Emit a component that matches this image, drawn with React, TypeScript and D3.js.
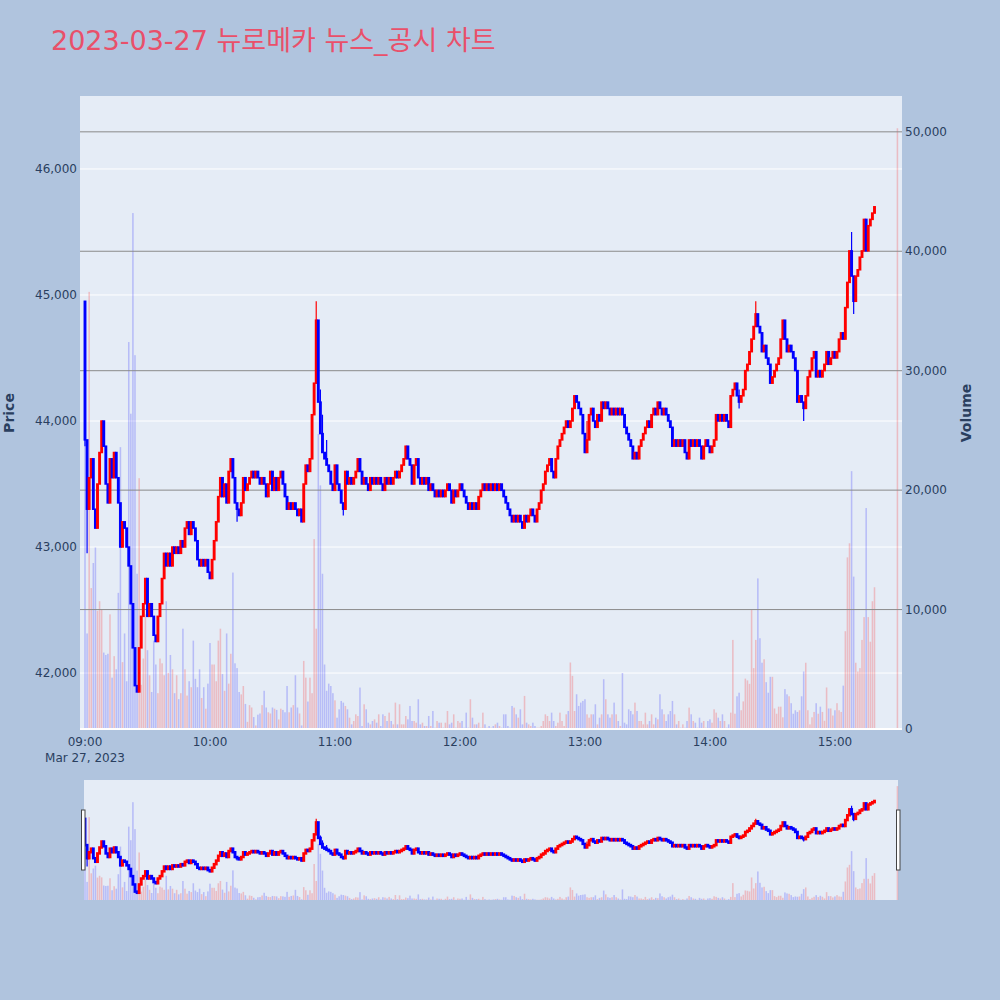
import React from 'react';
import * as d3 from 'd3';

// ---------- data (per-minute, 09:00 = minute 0) ----------
const FIRST_OPEN = 44950;

const closeH09 = [
  43850, 43300, 43550, 43700, 43300, 43150, 43500, 43750, 44000, 43800,
  43500, 43350, 43700, 43550, 43750, 43550, 43350, 43000, 43200, 43150,
  43000, 42850, 42550, 42200, 41900, 41850, 42200, 42450, 42550, 42750,
  42450, 42550, 42450, 42300, 42250, 42450, 42550, 42750, 42950, 42850,
  42950, 42850, 43000, 42950, 43000, 42950, 43050, 43000, 43150, 43200,
  43100, 43200, 43150, 43050, 42900, 42850, 42900, 42850, 42900, 42800,
];
const closeH10 = [
  42750, 42900, 43050, 43200, 43400, 43550, 43400, 43500, 43350, 43600,
  43700, 43550, 43350, 43300, 43250, 43350, 43550, 43450, 43500, 43550,
  43600, 43550, 43600, 43550, 43500, 43550, 43500, 43400, 43500, 43600,
  43450, 43550, 43450, 43550, 43600, 43500, 43400, 43300, 43350, 43300,
  43350, 43300, 43250, 43300, 43200, 43500, 43650, 43600, 43700, 44050,
  44300, 44800, 44150, 43900, 43750, 43700, 43650, 43600, 43500, 43450,
];
const closeH11 = [
  43650, 43500, 43450, 43350, 43300, 43600, 43500, 43550, 43500, 43550,
  43600, 43700, 43600, 43500, 43550, 43500, 43450, 43550, 43500, 43550,
  43500, 43550, 43500, 43450, 43550, 43500, 43550, 43500, 43550, 43600,
  43550, 43600, 43650, 43700, 43800, 43700, 43650, 43500, 43650, 43700,
  43550, 43500, 43550, 43500, 43550, 43450, 43500, 43450, 43400, 43450,
  43400, 43450, 43400, 43450, 43500, 43450, 43350, 43450, 43400, 43450,
];
const closeH12 = [
  43500, 43450, 43400, 43350, 43300, 43350, 43300, 43350, 43300, 43400,
  43450, 43500, 43450, 43500, 43450, 43500, 43450, 43500, 43450, 43500,
  43450, 43400, 43350, 43300, 43250, 43200, 43250, 43200, 43250, 43200,
  43150, 43250, 43200, 43250, 43300, 43250, 43200, 43300, 43350, 43450,
  43500, 43600, 43650, 43700, 43600, 43550, 43700, 43800, 43850, 43900,
  43950, 44000, 43950, 44000, 44100, 44200, 44150, 44100, 44050, 43900,
];
const closeH13 = [
  43750, 43850, 44050, 44100, 44000, 43950, 44050, 44000, 44150, 44100,
  44150, 44100, 44050, 44100, 44050, 44100, 44050, 44100, 44050, 43950,
  43900, 43850, 43800, 43700, 43750, 43700, 43800, 43850, 43900, 43950,
  44000, 43950, 44050, 44100, 44050, 44150, 44100, 44050, 44100, 44050,
  44000, 43950, 43800, 43850, 43800, 43850, 43800, 43850, 43750, 43700,
  43850, 43800, 43850, 43800, 43850, 43800, 43700, 43800, 43850, 43800,
];
const closeH14 = [
  43750, 43800, 43850, 44050, 44000, 44050, 44000, 44050, 44000, 43950,
  44200, 44250, 44300, 44200, 44150, 44200, 44250, 44400, 44450, 44550,
  44650, 44750, 44850, 44750, 44700, 44550, 44600, 44500, 44450, 44300,
  44350, 44400, 44450, 44500, 44650, 44800, 44650, 44550, 44600, 44550,
  44500, 44400, 44150, 44200, 44150, 44100, 44200, 44350, 44400, 44500,
  44550, 44350, 44400, 44350, 44400, 44450, 44550, 44450, 44500, 44550,
];
const closeH15 = [
  44500, 44550, 44650, 44700, 44650, 44900, 45100, 45350, 45150, 44950,
  45150, 45200, 45300, 45350, 45600, 45350, 45550, 45600, 45650, 45700,
];

// [minute, high, low] for candles whose wick reaches past the body
const wickExtremes: [number, number, number][] = [
  [0, 44950, 43800], [1, 43850, 42950], [73, 43350, 43200], [111, 44950, 44300],
  [112, 44800, 44150], [113, 44250, 43900], [114, 44050, 43750], [116, 43850, 43650],
  [124, 43350, 43250], [241, 44000, 43750], [314, 44250, 44100], [322, 44950, 44750],
  [345, 44150, 44000], [368, 45500, 45150], [369, 45150, 44850],
];

const volH09 = [
  29000, 8000, 36600, 11800, 13900, 15200, 9900, 10700, 10000, 6400,
  6200, 6300, 9600, 4300, 6100, 5000, 11400, 23600, 5600, 8000,
  4000, 32400, 26400, 43200, 31300, 13000, 21000, 3700, 5900, 9600,
  6600, 4500, 3100, 7400, 5400, 3000, 5900, 5500, 4500, 10700,
  4700, 6200, 5000, 3000, 4500, 2500, 3000, 8400, 5000, 2800,
  4000, 3500, 7400, 4200, 3500, 5000, 2600, 3500, 1700, 3800,
];
const volH10 = [
  7200, 5400, 5400, 4000, 7400, 8400, 4600, 3200, 8000, 3800,
  6300, 13100, 5500, 5100, 3100, 2900, 3600, 2100, 600, 2000,
  1800, 1000, 300, 1200, 1300, 2000, 3200, 1800, 1400, 1300,
  1800, 1700, 1600, 800, 1700, 1600, 1400, 3600, 1400, 1800,
  2000, 4500, 1800, 1300, 300, 5700, 4300, 2300, 4300, 3000,
  15900, 8400, 24700, 20400, 13000, 5400, 3200, 3800, 3600, 3000,
];
const volH11 = [
  2400, 950, 1650, 2350, 2210, 1930, 1650, 950, 390, 670,
  1230, 1090, 3470, 250, 2070, 1650, 530, 390, 670, 810,
  530, 1230, 250, 1230, 1090, 670, 1370, 670, 390, 2210,
  390, 2070, 390, 390, 1090, 810, 1930, 670, 670, 530,
  2490, 390, 530, 250, 250, 1090, 250, 1510, 110, 670,
  530, 530, 110, 530, 1510, 390, 530, 1230, 110, 670,
];
const volH12 = [
  530, 670, 110, 1370, 110, 2490, 950, 390, 390, 530,
  110, 1370, 390, 110, 250, 110, 250, 390, 530, 250,
  110, 1230, 1230, 250, 110, 1930, 1790, 1230, 950, 1650,
  390, 2770, 530, 390, 250, 530, 250, 110, 110, 250,
  670, 1230, 1090, 670, 1370, 670, 250, 530, 1370, 670,
  250, 1230, 1510, 5570, 4450, 1510, 2910, 1930, 2210, 2350,
];
const volH13 = [
  2490, 1230, 950, 1230, 1230, 2070, 390, 950, 1230, 4170,
  2490, 1230, 950, 1230, 2210, 1230, 670, 250, 4690, 530,
  390, 1650, 1510, 1230, 2210, 1510, 670, 670, 390, 1370,
  390, 670, 1230, 390, 950, 810, 2910, 1650, 1230, 670,
  1230, 1510, 2350, 1230, 390, 670, 110, 390, 110, 670,
  1790, 1230, 670, 530, 110, 950, 530, 670, 110, 670,
];
const volH14 = [
  810, 530, 1650, 1370, 950, 670, 1230, 670, 110, 390,
  1370, 7460, 1280, 2740, 3040, 1570, 2310, 4220, 4070, 3780,
  9960, 5100, 7460, 12610, 7600, 5550, 5840, 3920, 3040, 4370,
  4370, 1720, 1280, 1870, 1870, 980, 3340, 2900, 2740, 2160,
  1280, 1570, 1430, 1570, 2740, 4810, 5550, 1570, 390, 980,
  1430, 2160, 1280, 1870, 1430, 690, 3480, 1720, 1720, 1130,
];
const volH15 = [
  1570, 2160, 1570, 1430, 3630, 8190, 14370, 15550, 21590, 12760,
  5550, 4810, 5100, 7460, 9370, 18500, 9370, 7310, 10700, 11870,
];
// closing auction (15:30)
const closingAuction = { minute: 390, volume: 50300 };

const priceTicks = [42000, 43000, 44000, 45000, 46000];
const volumeTicks = [0, 10000, 20000, 30000, 40000, 50000];
const timeTicks = ['09:00', '10:00', '11:00', '12:00', '13:00', '14:00', '15:00'];
const dateLabel = 'Mar 27, 2023';
const titleText = '2023-03-27 뉴로메카 뉴스_공시 차트';

// ---------- layout ----------
const MAIN = { left: 80, right: 902, top: 96, bottom: 730 };
const SLIDER = { left: 84, right: 898, top: 780, bottom: 900 };
const X_DOMAIN: [number, number] = [-2.4, 392.2];
const PRICE_DOMAIN: [number, number] = [41548, 46579];
const VOL_DOMAIN: [number, number] = [0, 53000];
const FONT = '"DejaVu Sans", Verdana, "Noto Sans CJK KR", sans-serif';
const INK = '#2a3f5f';
const UP = '#ff0000';
const DOWN = '#0000ff';

export default function App() {
  const closes = [...closeH09, ...closeH10, ...closeH11, ...closeH12, ...closeH13, ...closeH14, ...closeH15];
  const vols = [...volH09, ...volH10, ...volH11, ...volH12, ...volH13, ...volH14, ...volH15];
  const candles = closes.map((c, i) => {
    const o = i === 0 ? FIRST_OPEN : closes[i - 1];
    let h = Math.max(o, c);
    let l = Math.min(o, c);
    const w = wickExtremes.find((e) => e[0] === i);
    if (w) { h = Math.max(h, w[1]); l = Math.min(l, w[2]); }
    return { m: i, o, c, h, l, v: vols[i] ?? 0, up: c > o };
  });

  const x = d3.scaleLinear().domain(X_DOMAIN).range([MAIN.left, MAIN.right]);
  const yP = d3.scaleLinear().domain(PRICE_DOMAIN).range([MAIN.bottom, MAIN.top]);
  const yV = d3.scaleLinear().domain(VOL_DOMAIN).range([MAIN.bottom - 1, MAIN.top]);
  const ysP = d3.scaleLinear().domain(PRICE_DOMAIN).range([SLIDER.bottom, SLIDER.top]);
  const ysV = d3.scaleLinear().domain(VOL_DOMAIN).range([SLIDER.bottom, SLIDER.top]);
  const fmt = d3.format(',');
  const step = x(1) - x(0);
  const barW = step * 0.75;

  const volBars = (yv: d3.ScaleLinear<number, number>, key: string) => (
    <g key={key}>
      {candles.map((d) => (
        <rect key={d.m} x={x(d.m) - barW / 2} width={barW} y={yv(d.v)} height={Math.max(0, yv(0) - yv(d.v))}
          fill={d.up ? 'rgba(255,0,0,0.2)' : 'rgba(0,0,255,0.2)'} />
      ))}
      <rect x={x(closingAuction.minute) - barW / 2} width={barW} y={yv(closingAuction.volume)}
        height={yv(0) - yv(closingAuction.volume)} fill="rgba(255,0,0,0.2)" />
    </g>
  );

  const candleMarks = (yp: d3.ScaleLinear<number, number>, cw: number, pad: number, minH: number, key: string) => (
    <g key={key}>
      {candles.map((d) => {
        const col = d.up ? UP : DOWN;
        const top = yp(Math.max(d.o, d.c));
        const bot = yp(Math.min(d.o, d.c));
        const hgt = Math.max(minH, bot - top + pad);
        const cx = x(d.m);
        return (
          <g key={d.m}>
            <line x1={cx} x2={cx} y1={yp(d.h)} y2={yp(d.l)} stroke={col} strokeWidth={1.2} />
            <rect x={cx - cw / 2} width={cw} y={(top + bot) / 2 - hgt / 2} height={hgt} fill={col} />
          </g>
        );
      })}
    </g>
  );

  const hourX = (i: number) => x(i * 60);

  return (
    <svg width={1000} height={1000} style={{ position: 'absolute', left: 0, top: 0 }}>
      <rect width={1000} height={1000} fill="#b0c4de" />
      <text x={51} y={50} fontFamily={FONT} fontSize={27} fill="#e9506a">{titleText}</text>

      {/* main plot */}
      <rect x={MAIN.left} y={MAIN.top} width={MAIN.right - MAIN.left} height={MAIN.bottom - MAIN.top} fill="#e5ecf6" />
      {priceTicks.map((t) => (
        <line key={t} x1={MAIN.left} x2={MAIN.right} y1={yP(t)} y2={yP(t)} stroke="#ffffff" strokeWidth={1} />
      ))}
      {volBars(yV, 'vm')}
      {volumeTicks.filter((t) => t > 0).map((t) => (
        <line key={t} x1={MAIN.left} x2={MAIN.right} y1={yV(t)} y2={yV(t)} stroke="#8a8a8a" strokeWidth={1} />
      ))}
      <line x1={MAIN.left} x2={MAIN.right} y1={yV(0)} y2={yV(0)} stroke="#ffffff" strokeWidth={2} />
      {candleMarks(yP, 2.9, 1.5, 2.5, 'cm')}

      {/* price axis */}
      {priceTicks.map((t) => (
        <text key={t} x={77} y={yP(t) + 4} textAnchor="end" fontFamily={FONT} fontSize={12} fill={INK}>{fmt(t)}</text>
      ))}
      <text transform={`translate(14,${(MAIN.top + MAIN.bottom) / 2}) rotate(-90)`} textAnchor="middle"
        fontFamily={FONT} fontSize={14} fontWeight="bold" fill={INK}>Price</text>

      {/* volume axis */}
      {volumeTicks.map((t) => (
        <text key={t} x={905} y={yV(t) + 4} textAnchor="start" fontFamily={FONT} fontSize={12} fill={INK}>{fmt(t)}</text>
      ))}
      <text transform={`translate(971,${(MAIN.top + MAIN.bottom) / 2}) rotate(-90)`} textAnchor="middle"
        fontFamily={FONT} fontSize={14} fontWeight="bold" fill={INK}>Volume</text>

      {/* time axis */}
      {timeTicks.map((t, i) => (
        <text key={t} x={hourX(i)} y={746} textAnchor="middle" fontFamily={FONT} fontSize={12} fill={INK}>{t}</text>
      ))}
      <text x={hourX(0)} y={762} textAnchor="middle" fontFamily={FONT} fontSize={12} fill={INK}>{dateLabel}</text>

      {/* range slider */}
      <rect x={SLIDER.left} y={SLIDER.top} width={SLIDER.right - SLIDER.left} height={SLIDER.bottom - SLIDER.top} fill="#e5ecf6" />
      <g>
        {volBars(ysV, 'vs')}
        {candleMarks(ysP, 2.9, 2.5, 3.5, 'cs')}
      </g>
      <rect x={81.5} y={810} width={3.5} height={60} fill="#ffffff" stroke="#444444" strokeWidth={1} />
      <rect x={896.5} y={810} width={3.5} height={60} fill="#ffffff" stroke="#444444" strokeWidth={1} />
    </svg>
  );
}
